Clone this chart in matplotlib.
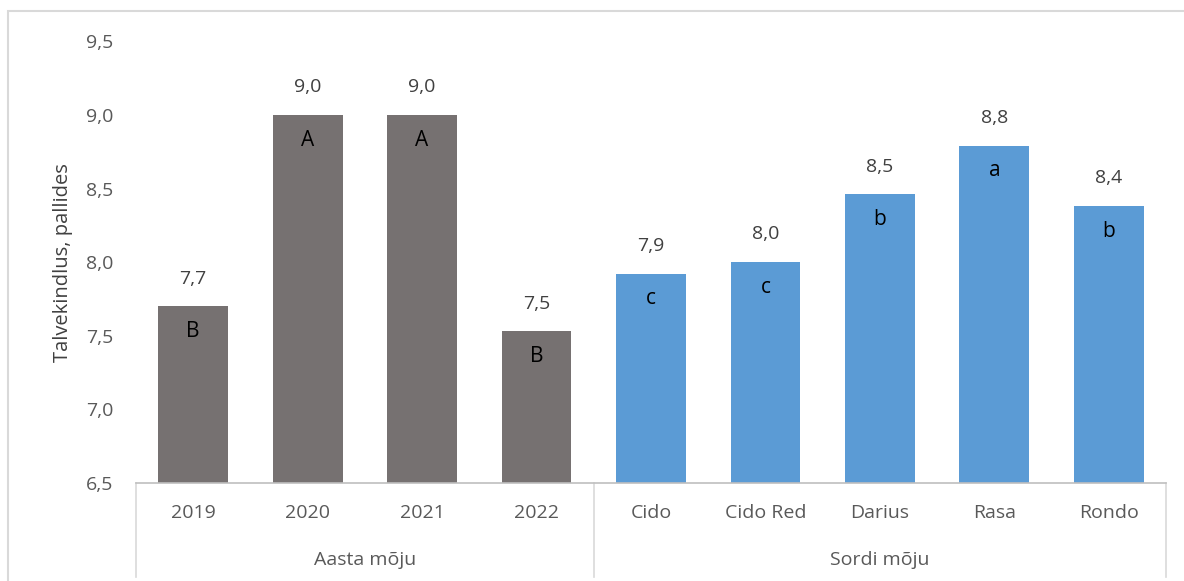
import matplotlib
matplotlib.use("Agg")
import matplotlib.pyplot as plt
from matplotlib.patches import Rectangle
import matplotlib.transforms as mtransforms

# Winter hardiness scores by year and by variety
categories = ["2019", "2020", "2021", "2022", "Cido", "Cido Red", "Darius", "Rasa", "Rondo"]
values = [7.70, 9.00, 9.00, 7.53, 7.92, 8.00, 8.46, 8.79, 8.38]
letters = ["B", "A", "A", "B", "c", "c", "b", "a", "b"]
groups = ["Aasta mõju", "Sordi mõju"]
group_sizes = [4, 5]
y_ticks = [6.5, 7.0, 7.5, 8.0, 8.5, 9.0, 9.5]

gray = "#767171"
blue = "#5B9BD5"
colors = [gray] * group_sizes[0] + [blue] * group_sizes[1]
text_col = "#595959"
line_col = "#D9D9D9"

plt.rcParams["font.family"] = ["Open Sans", "DejaVu Sans"]

fig = plt.figure(figsize=(11.84, 5.81), dpi=100)
ax = fig.add_axes([136 / 1184, 1 - 483 / 581, (1166 - 136) / 1184, (483 - 41.4) / 581])

x = list(range(len(categories)))
ax.bar(x, values, width=0.61, color=colors, zorder=2)

ax.set_xlim(-0.5, len(categories) - 0.5)
ax.set_ylim(6.5, 9.5)
ax.set_yticks(y_ticks)
ax.set_yticklabels([f"{v:.1f}".replace(".", ",") for v in y_ticks])
ax.tick_params(axis="y", length=0, pad=16.5, labelsize=14, labelcolor=text_col)
ax.set_xticks(x)
ax.set_xticklabels(categories)
ax.tick_params(axis="x", length=0, pad=15, labelsize=14, labelcolor=text_col)

for s in ["top", "right", "left"]:
    ax.spines[s].set_visible(False)
ax.spines["bottom"].set_color("#BFBFBF")
ax.spines["bottom"].set_linewidth(1.2)

ax.set_ylabel("Talvekindlus, pallides", fontsize=14.5, color="#404040", labelpad=9)

# value labels above bars and significance letters inside
for xi, v, let in zip(x, values, letters):
    ax.annotate(f"{v:.1f}".replace(".", ","), (xi, v), xytext=(0, 20),
                textcoords="offset points", ha="center", va="center",
                fontsize=14, color="#404040")
    ax.annotate(let, (xi, v), xytext=(0, -18), textcoords="offset points",
                ha="center", va="center", fontsize=15, color="black")

# multi-level category axis: separators and group names
trans = mtransforms.blended_transform_factory(ax.transData, ax.transAxes)
bottom_frac = -(577 - 483) / (483 - 41.4)
start = -0.5
bounds = [start]
for gsize in group_sizes:
    bounds.append(bounds[-1] + gsize)
for b in bounds:
    ax.plot([b, b], [0, bottom_frac], transform=trans, color=line_col,
            lw=1.2, clip_on=False)
for gname, lo, hi in zip(groups, bounds[:-1], bounds[1:]):
    ax.text((lo + hi) / 2, -(560 - 483) / (483 - 41.4), gname, transform=trans,
            ha="center", va="center", fontsize=14, color=text_col)

# outer chart frame
fig.patches.append(Rectangle((8 / 1184, -0.05), 1.1, 1 - 11 / 581 + 0.05,
                             transform=fig.transFigure, fill=False,
                             edgecolor="#D9D9D9", lw=1.5))

fig.savefig("out.png", dpi=100)
